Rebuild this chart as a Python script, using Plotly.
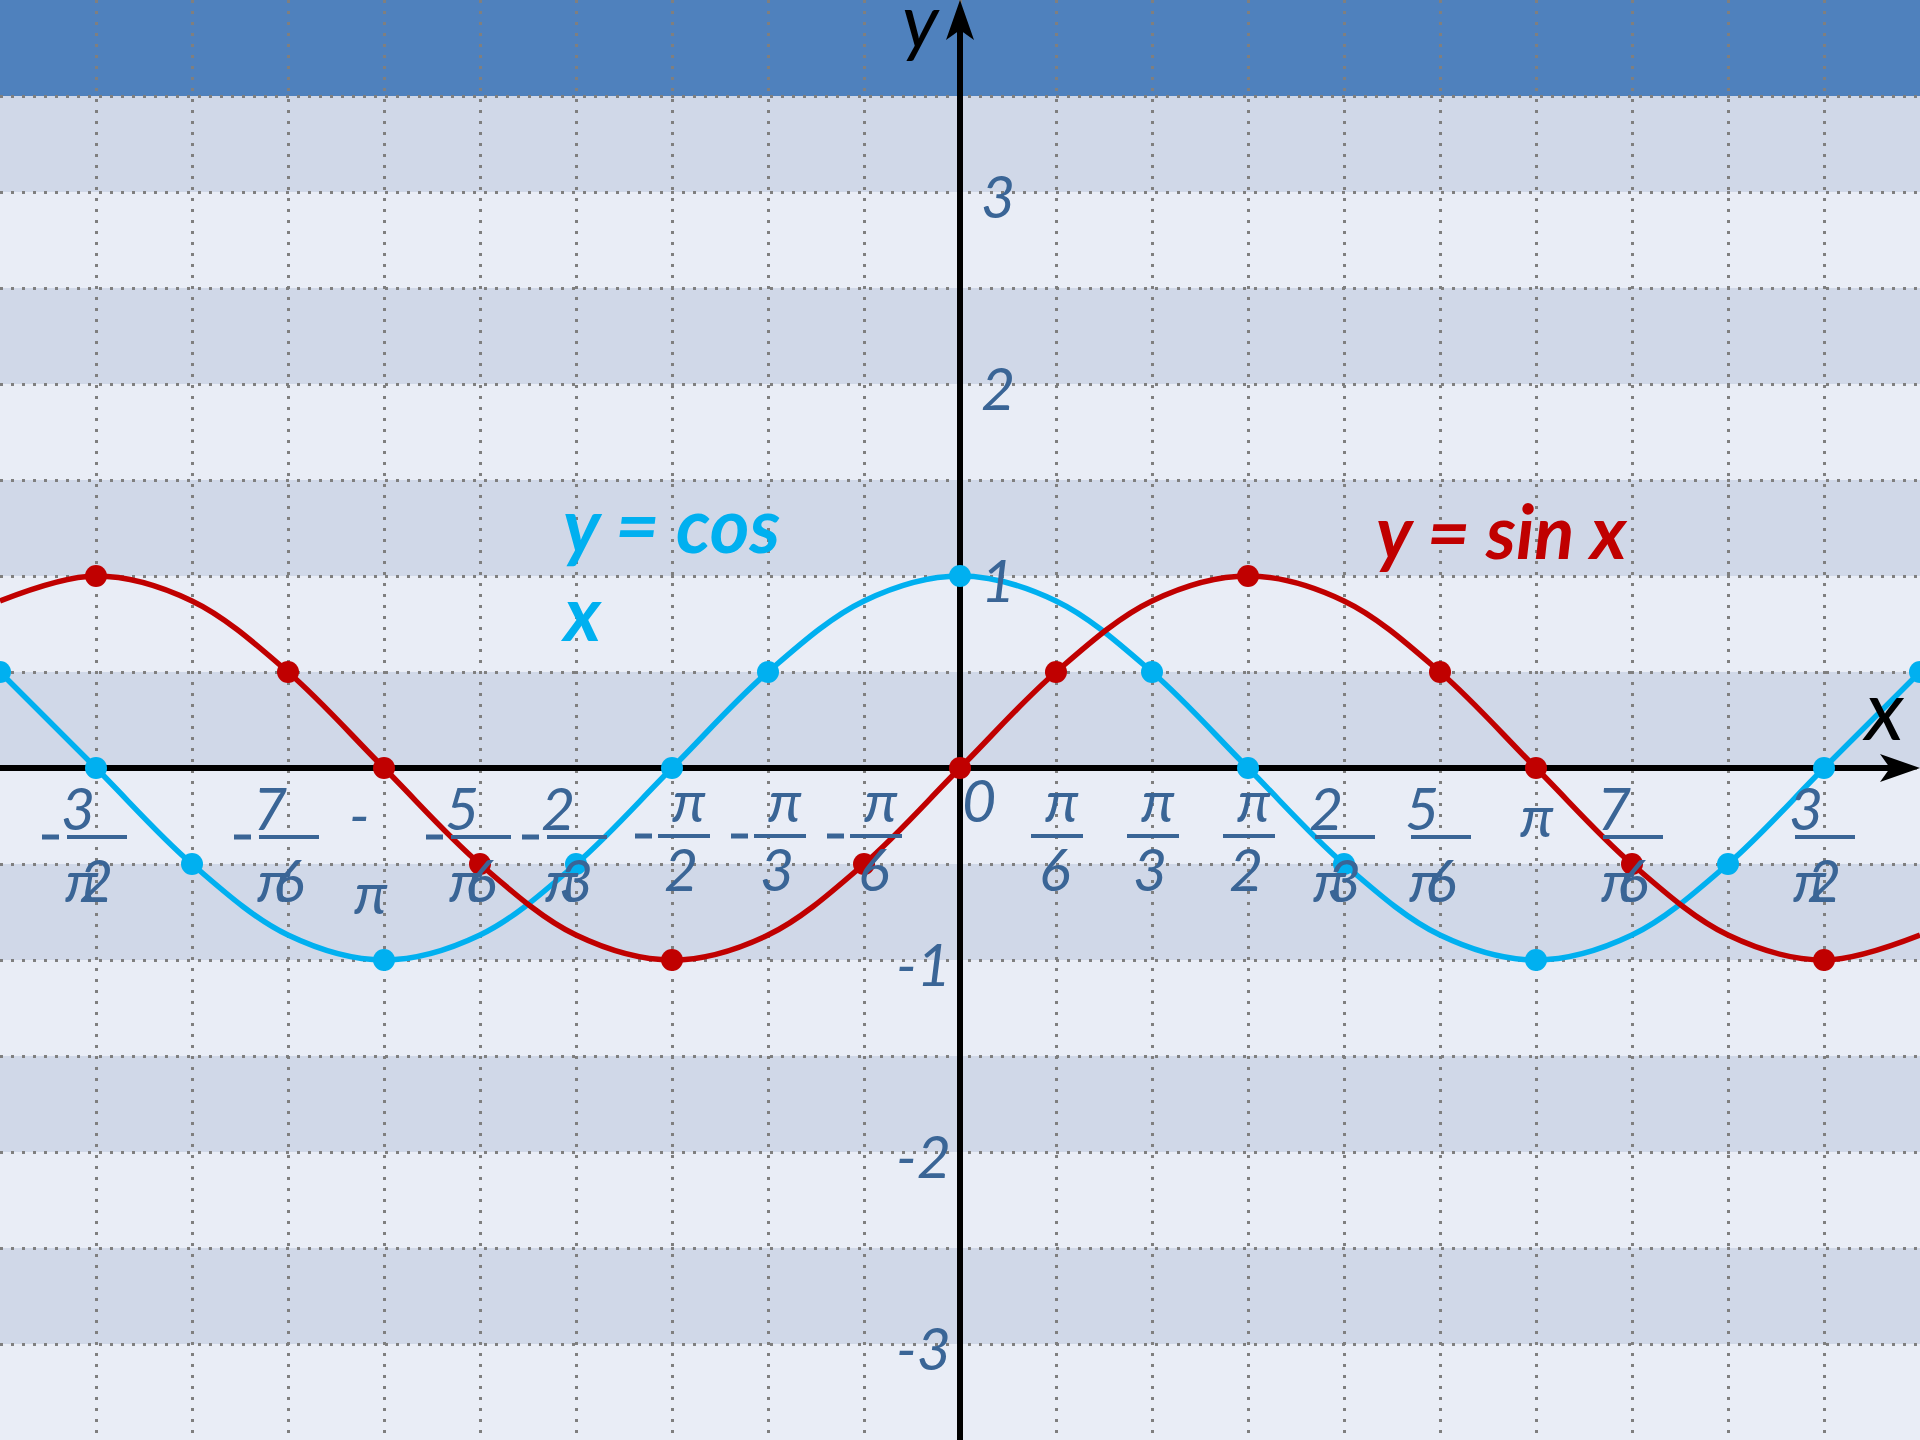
import plotly.graph_objects as go

# x is counted in steps of pi/6 (k -> k*pi/6)
steps = list(range(-10, 11))
sin_vals = [0.87, 1, 0.87, 0.5, 0, -0.5, -0.87, -1, -0.87, -0.5, 0,
            0.5, 0.87, 1, 0.87, 0.5, 0, -0.5, -0.87, -1, -0.87]
cos_vals = [0.5, 0, -0.5, -0.87, -1, -0.87, -0.5, 0, 0.5, 0.87, 1,
            0.87, 0.5, 0, -0.5, -0.87, -1, -0.87, -0.5, 0, 0.5]

# marked points on each curve
sin_mark_steps = [-9, -7, -6, -5, -3, -1, 0, 1, 3, 5, 6, 7, 9]
sin_mark_vals = [1, 0.5, 0, -0.5, -1, -0.5, 0, 0.5, 1, 0.5, 0, -0.5, -1]
cos_mark_steps = [-10, -9, -8, -6, -4, -3, -2, 0, 2, 3, 4, 6, 8, 9, 10]
cos_mark_vals = [0.5, 0, -0.5, -1, -0.5, 0, 0.5, 1, 0.5, 0, -0.5, -1, -0.5, 0, 0.5]

# x tick labels
tick_steps = [-9, -7, -6, -5, -4, -3, -2, -1, 0, 1, 2, 3, 4, 5, 6, 7, 9]
tick_labels = ['-3π/2', '-7π/6', '-π', '-5π/6', '-2π/3', '-π/2', '-π/3', '-π/6', '0',
               'π/6', 'π/3', 'π/2', '2π/3', '5π/6', 'π', '7π/6', '3π/2']

# y tick labels
y_ticks = [-3, -2, -1, 1, 2, 3]

RED = '#c00000'
BLUE = '#00b0f0'
LABEL = '#3a6596'
FONT = 'Lato, Noto Sans'
TICK_SIZE = 59

fig = go.Figure()

# curves
fig.add_trace(go.Scatter(x=steps, y=cos_vals, mode='lines', line_shape='spline',
                         line=dict(color=BLUE, width=5.5), hoverinfo='skip'))
fig.add_trace(go.Scatter(x=steps, y=sin_vals, mode='lines', line_shape='spline',
                         line=dict(color=RED, width=5.5), hoverinfo='skip'))
fig.add_trace(go.Scatter(x=cos_mark_steps, y=cos_mark_vals, mode='markers',
                         marker=dict(color=BLUE, size=22)))
fig.add_trace(go.Scatter(x=sin_mark_steps, y=sin_mark_vals, mode='markers',
                         marker=dict(color=RED, size=22)))

# table-like banded background (header row + alternating rows)
rows = [4 - 0.5 * i for i in range(16)]
for i in range(15):
    if i == 0:
        col = '#4f81bd'
    elif i % 2 == 1:
        col = '#d0d8e8'
    else:
        col = '#e9edf6'
    fig.add_shape(type='rect', xref='paper', yref='y', x0=0, x1=1,
                  y0=rows[i + 1], y1=rows[i], fillcolor=col, line_width=0, layer='below')

# axes with arrowheads
fig.add_shape(type='line', xref='x', yref='y', x0=-10, x1=9.7, y0=0, y1=0,
              line=dict(color='black', width=6), layer='between')
fig.add_shape(type='line', xref='x', yref='y', x0=0, x1=0, y0=-3.5, y1=3.85,
              line=dict(color='black', width=6), layer='between')
fig.add_shape(type='path', xsizemode='pixel', ysizemode='pixel', xanchor=10, yanchor=0,
              xref='x', yref='y', path='M0,0 L-40,14 L-30,0 L-40,-14 Z',
              fillcolor='black', line_width=0, layer='between')
fig.add_shape(type='path', xsizemode='pixel', ysizemode='pixel', xanchor=0, yanchor=4,
              xref='x', yref='y', path='M0,0 L-14,-40 L0,-30 L14,-40 Z',
              fillcolor='black', line_width=0, layer='between')


def txt(s, k, dx, dy, size=TICK_SIZE):
    fig.add_annotation(x=k, y=0, xref='x', yref='y', text=s, showarrow=False,
                       xanchor='center', yanchor='middle', xshift=dx, yshift=dy,
                       font=dict(family=FONT, size=size, color=LABEL, style='italic'))


def bar(k, a, b, dy, w=4):
    fig.add_shape(type='line', xref='x', yref='y', xsizemode='pixel', ysizemode='pixel',
                  xanchor=k, yanchor=0, x0=a, x1=b, y0=dy, y1=dy,
                  line=dict(color=LABEL, width=w), layer='above')


for k, lab in zip(tick_steps, tick_labels):
    neg = lab.startswith('-')
    body = lab.lstrip('-')
    if body == '0':
        txt('0', k, 19, -31)
    elif body == 'π':
        if neg:
            txt('-', k, -25, -45)
            txt('π', k, -13, -123)
        else:
            txt('π', k, 1, -46)
    else:
        num, den = body.split('/')
        if num == 'π':
            dx = 11 if neg else 0
            txt('π', k, dx + 6, -31)
            txt(den, k, dx - 2, -100)
            bar(k, dx - 25, dx + 27, -68)
            if neg:
                bar(k, dx - 48, dx - 31, -68, 5)
        else:
            txt(num[0], k, -18, -39)
            txt('π', k, -14, -111)
            txt(den, k, 0, -111)
            bar(k, -29, 31, -69)
            if neg:
                bar(k, -54, -37, -69, 5)

for v in y_ticks:
    fig.add_annotation(x=0, y=v, xref='x', yref='y', text=str(v), showarrow=False,
                       xanchor='left' if v > 0 else 'right', yanchor='middle',
                       xshift=19 if v > 0 else -7, yshift=-3,
                       font=dict(family=FONT, size=TICK_SIZE, color=LABEL, style='italic'))

# axis names
fig.add_annotation(x=1883 / 1920, y=0.5087, xref='paper', yref='paper', text='x',
                   showarrow=False, xanchor='center', yanchor='middle',
                   font=dict(family=FONT, size=84, color='black', style='italic'))
fig.add_annotation(x=921 / 1920, y=0.987, xref='paper', yref='paper', text='y',
                   showarrow=False, xanchor='center', yanchor='middle',
                   font=dict(family=FONT, size=76, color='black', style='italic'))

# curve names
fig.add_annotation(x=0.2922, y=0.6363, xref='paper', yref='paper', text='y = cos',
                   showarrow=False, xanchor='left', yanchor='middle',
                   font=dict(family=FONT, size=76, color=BLUE, style='italic', weight='bold'))
fig.add_annotation(x=0.2906, y=0.5752, xref='paper', yref='paper', text='x',
                   showarrow=False, xanchor='left', yanchor='middle',
                   font=dict(family=FONT, size=76, color=BLUE, style='italic', weight='bold'))
fig.add_annotation(x=0.7818, y=0.6315, xref='paper', yref='paper', text='y = sin x',
                   showarrow=False, xanchor='center', yanchor='middle',
                   font=dict(family=FONT, size=74, color=RED, style='italic', weight='bold'))

fig.update_layout(
    width=1920, height=1440,
    margin=dict(l=0, r=0, t=0, b=0),
    showlegend=False,
    plot_bgcolor='#e9edf6',
    paper_bgcolor='#e9edf6',
)
fig.update_xaxes(range=[-10, 10], dtick=1, tick0=0, showgrid=True, gridcolor='#7f7f7f',
                 gridwidth=3, griddash='3px,8px', zeroline=False, showticklabels=False,
                 ticks='', showline=False)
fig.update_yaxes(range=[-3.5, 4], dtick=0.5, tick0=0, showgrid=True, gridcolor='#7f7f7f',
                 gridwidth=3, griddash='3px,8px', zeroline=False, showticklabels=False,
                 ticks='', showline=False)

# drop the default page margin so the chart fills the window
fig.write_html("out.html", config={'displayModeBar': False},
               post_script="document.body.style.margin='0';")
